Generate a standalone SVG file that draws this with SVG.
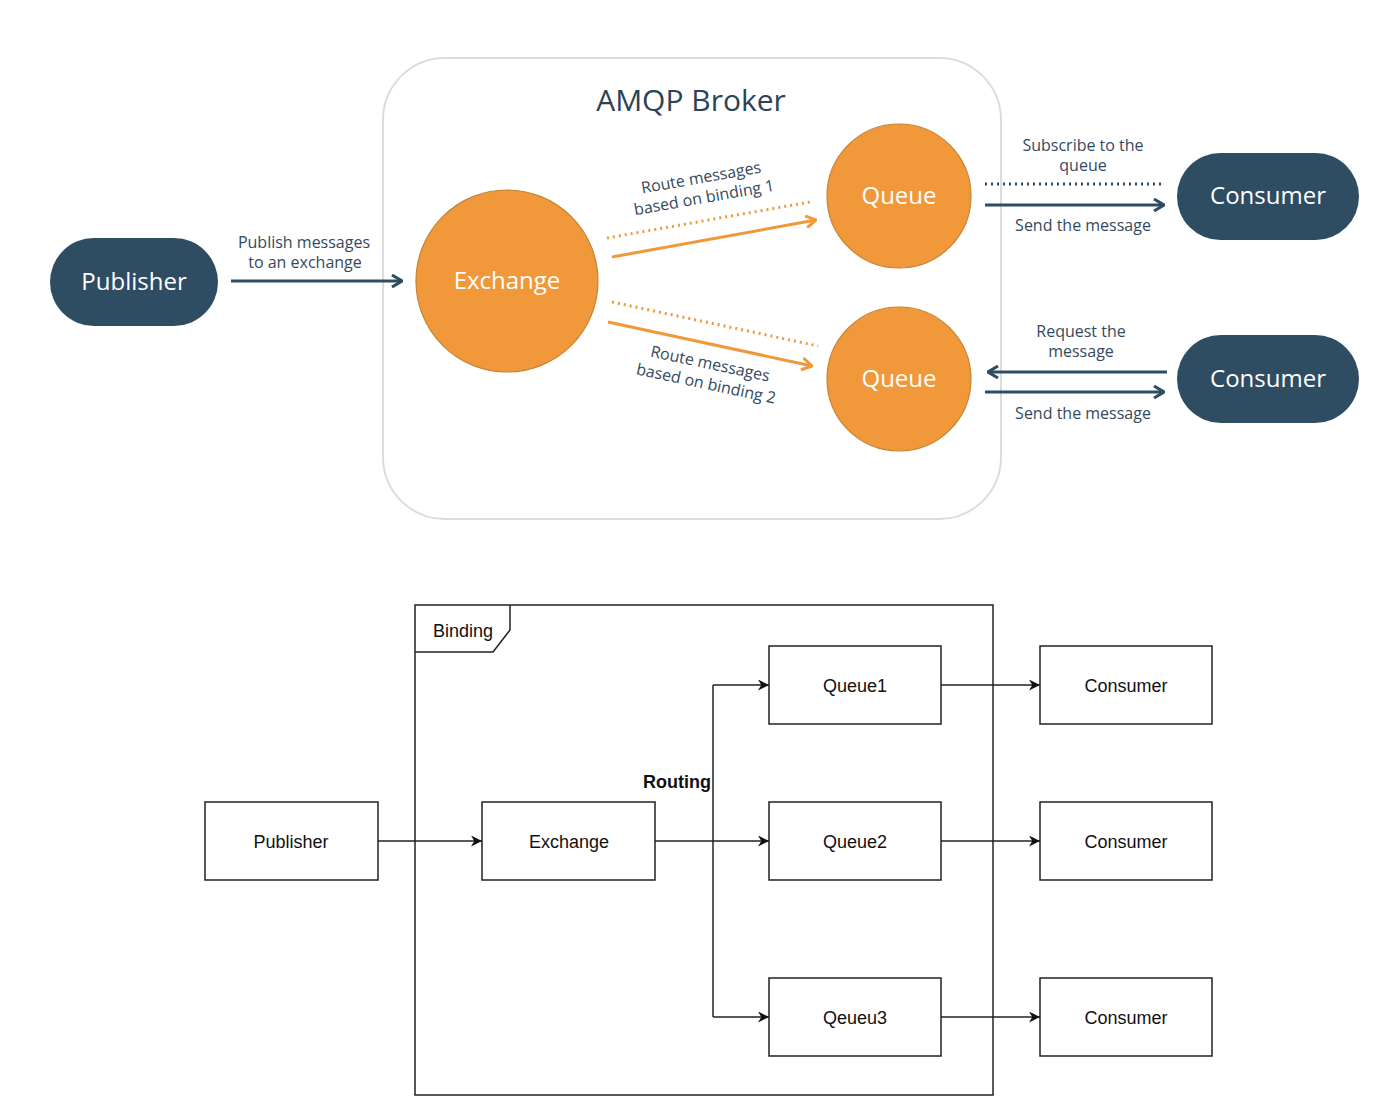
<svg xmlns="http://www.w3.org/2000/svg" width="1398" height="1120" viewBox="0 0 1398 1120">
<style>
.lbl{font-family:"Open Sans","Noto Sans",sans-serif;font-size:16px;fill:#34495e;text-anchor:middle}
.wt{font-family:"Open Sans","Noto Sans",sans-serif;font-size:24px;fill:#ffffff;text-anchor:middle}
.pill{fill:#2e4c62}
.orb{fill:#f0983a;stroke:#c58434;stroke-width:1.2}
.nv{stroke:#2e4c62;stroke-width:3;fill:none}
.nvd{stroke:#2e4c62;stroke-width:3;fill:none;stroke-dasharray:2 4}
.or{stroke:#f0983a;stroke-width:3;fill:none}
.ord{stroke:#f0983a;stroke-width:3;fill:none;stroke-dasharray:2 4}
.bx{fill:#fff;stroke:#222;stroke-width:1.5}
.bt{font-family:"Liberation Sans",Arial,sans-serif;font-size:18px;fill:#111;text-anchor:middle}
.ln{stroke:#222;stroke-width:1.5;fill:none}
</style>
<defs>
<marker id="chevN" viewBox="0 0 12 14" markerWidth="12" markerHeight="14" refX="11" refY="7" orient="auto" markerUnits="userSpaceOnUse"><path d="M1,1 L11,7 L1,13" fill="none" stroke="#2e4c62" stroke-width="3"/></marker>
<marker id="chevO" viewBox="0 0 12 14" markerWidth="12" markerHeight="14" refX="11" refY="7" orient="auto" markerUnits="userSpaceOnUse"><path d="M1,1 L11,7 L1,13" fill="none" stroke="#f0983a" stroke-width="3"/></marker>
<marker id="tri" viewBox="0 0 10 10" markerWidth="11" markerHeight="11" refX="10" refY="5" orient="auto" markerUnits="userSpaceOnUse"><path d="M0,0 L10,5 L0,10 L3,5 Z" fill="#111"/></marker>
</defs>
<rect width="1398" height="1120" fill="#fff"/>

<g id="broker">
<rect x="383" y="58" width="618" height="461" rx="62" fill="#fff" stroke="#dcdcdc" stroke-width="2"/>
<text x="691" y="111" style="font-family:'Open Sans','Noto Sans',sans-serif;font-size:30px;fill:#2d4356;text-anchor:middle">AMQP Broker</text>
</g>

<g id="connectors-top">
<line class="nv" x1="231" y1="281" x2="402" y2="281" marker-end="url(#chevN)"/>
<text class="lbl" x="304" y="248">Publish messages</text>
<text class="lbl" x="305" y="268">to an exchange</text>

<line class="ord" x1="607" y1="238" x2="810" y2="202"/>
<line class="or" x1="612" y1="257" x2="816" y2="220" marker-end="url(#chevO)"/>
<text class="lbl" transform="translate(702,183) rotate(-10)">Route messages</text>
<text class="lbl" transform="translate(705,203) rotate(-10)">based on binding 1</text>

<line class="ord" x1="612" y1="302" x2="818" y2="346"/>
<line class="or" x1="608" y1="322" x2="812" y2="366" marker-end="url(#chevO)"/>
<text class="lbl" transform="translate(709,369) rotate(12)">Route messages</text>
<text class="lbl" transform="translate(705,389) rotate(12)">based on binding 2</text>

<line class="nvd" x1="985" y1="184" x2="1162" y2="184"/>
<line class="nv" x1="985" y1="205" x2="1164" y2="205" marker-end="url(#chevN)"/>
<text class="lbl" x="1083" y="151">Subscribe to the</text>
<text class="lbl" x="1083" y="171">queue</text>
<text class="lbl" x="1083" y="231">Send the message</text>

<line class="nv" x1="1167" y1="372" x2="988" y2="372" marker-end="url(#chevN)"/>
<line class="nv" x1="985" y1="392" x2="1164" y2="392" marker-end="url(#chevN)"/>
<text class="lbl" x="1081" y="337">Request the</text>
<text class="lbl" x="1081" y="357">message</text>
<text class="lbl" x="1083" y="419">Send the message</text>
</g>

<g id="publisher-top"><rect class="pill" x="50" y="238" width="168" height="88" rx="44"/><text class="wt" x="134" y="290">Publisher</text></g>
<g id="exchange-top"><circle class="orb" cx="507" cy="281" r="91"/><text class="wt" x="507" y="289">Exchange</text></g>
<g id="queue1-top"><circle class="orb" cx="899" cy="196" r="72"/><text class="wt" x="899" y="204">Queue</text></g>
<g id="queue2-top"><circle class="orb" cx="899" cy="379" r="72"/><text class="wt" x="899" y="387">Queue</text></g>
<g id="consumer1-top"><rect class="pill" x="1177" y="153" width="182" height="87" rx="43.5"/><text class="wt" x="1268" y="204">Consumer</text></g>
<g id="consumer2-top"><rect class="pill" x="1177" y="335" width="182" height="88" rx="44"/><text class="wt" x="1268" y="387">Consumer</text></g>

<g id="binding-frame">
<rect x="415" y="605" width="578" height="490" fill="none" stroke="#222" stroke-width="1.5"/>
<path d="M415,652 L493,652 L510,630 L510,605" fill="none" stroke="#222" stroke-width="1.5"/>
<text x="433" y="637" style="font-family:'Liberation Sans',Arial,sans-serif;font-size:18px;fill:#111">Binding</text>
</g>

<g id="connectors-bottom">
<line class="ln" x1="378" y1="841" x2="482" y2="841" marker-end="url(#tri)"/>
<line class="ln" x1="655" y1="841" x2="769" y2="841" marker-end="url(#tri)"/>
<polyline class="ln" points="713,685 713,1017"/>
<line class="ln" x1="713" y1="685" x2="769" y2="685" marker-end="url(#tri)"/>
<line class="ln" x1="713" y1="1017" x2="769" y2="1017" marker-end="url(#tri)"/>
<line class="ln" x1="941" y1="685" x2="1040" y2="685" marker-end="url(#tri)"/>
<line class="ln" x1="941" y1="841" x2="1040" y2="841" marker-end="url(#tri)"/>
<line class="ln" x1="941" y1="1017" x2="1040" y2="1017" marker-end="url(#tri)"/>
<text x="711" y="788" style="font-family:'Liberation Sans',Arial,sans-serif;font-size:18px;font-weight:bold;fill:#111;text-anchor:end">Routing</text>
</g>

<g id="publisher"><rect class="bx" x="205" y="802" width="173" height="78"/><text class="bt" x="291" y="848">Publisher</text></g>
<g id="exchange"><rect class="bx" x="482" y="802" width="173" height="78"/><text class="bt" x="569" y="848">Exchange</text></g>
<g id="queue1"><rect class="bx" x="769" y="646" width="172" height="78"/><text class="bt" x="855" y="692">Queue1</text></g>
<g id="queue2"><rect class="bx" x="769" y="802" width="172" height="78"/><text class="bt" x="855" y="848">Queue2</text></g>
<g id="queue3"><rect class="bx" x="769" y="978" width="172" height="78"/><text class="bt" x="855" y="1024">Qeueu3</text></g>
<g id="consumer1"><rect class="bx" x="1040" y="646" width="172" height="78"/><text class="bt" x="1126" y="692">Consumer</text></g>
<g id="consumer2"><rect class="bx" x="1040" y="802" width="172" height="78"/><text class="bt" x="1126" y="848">Consumer</text></g>
<g id="consumer3"><rect class="bx" x="1040" y="978" width="172" height="78"/><text class="bt" x="1126" y="1024">Consumer</text></g>
</svg>
